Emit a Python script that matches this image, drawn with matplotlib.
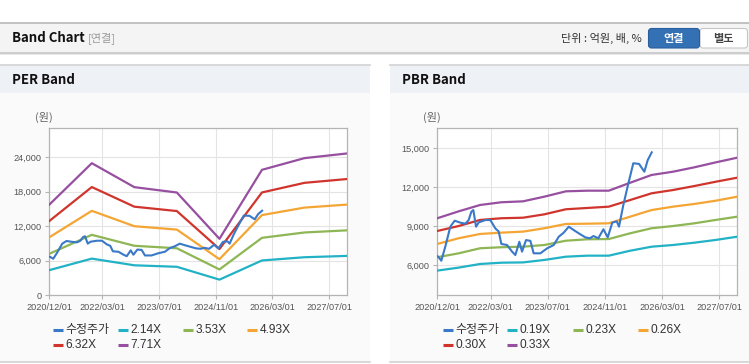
import numpy as np
import matplotlib
matplotlib.use("Agg")
import matplotlib.pyplot as plt
import matplotlib.dates as mdates
from matplotlib.patches import Rectangle, FancyBboxPatch
from matplotlib.ticker import FuncFormatter

plt.rcParams['font.family'] = ['Liberation Sans', 'Noto Sans CJK KR']

# ---- data ----
price_dates = np.array([
    '2020-12-01', '2020-12-10', '2021-01-04', '2021-02-07', '2021-03-22', '2021-04-28',
    '2021-06-15', '2021-07-28', '2021-08-25', '2021-09-17', '2021-10-04', '2021-10-27',
    '2021-11-19', '2022-01-14', '2022-02-26', '2022-04-09', '2022-05-08', '2022-05-31',
    '2022-07-18', '2022-08-30', '2022-09-27', '2022-10-31', '2022-11-23', '2022-12-27',
    '2023-02-02', '2023-03-02', '2023-04-28', '2023-06-24', '2023-08-20', '2023-10-02',
    '2023-11-13', '2023-12-26', '2024-02-06', '2024-03-20', '2024-05-15', '2024-06-24',
    '2024-07-23', '2024-09-03', '2024-10-16', '2024-11-22', '2024-12-31', '2025-02-07',
    '2025-02-26', '2025-04-04', '2025-05-17', '2025-06-28', '2025-08-16', '2025-09-30',
    '2025-10-29', '2025-12-02'], dtype='datetime64[D]')
price = [
    6700, 6650, 6350, 7430, 8970, 9430,
    9280, 9200, 9480, 10120, 10250, 8970,
    9300, 9480, 9480, 8840, 8600, 7640,
    7560, 7050, 6790, 7810, 7050, 7940,
    7880, 6920, 6920, 7300, 7560, 8200,
    8510, 8970, 8710, 8460, 8150, 8080,
    8250, 8080, 8770, 8150, 9280, 9380,
    8970, 10640, 12310, 13850, 13800, 13200,
    14100, 14690]

per_dates = np.array(['2020-12-01', '2021-12-01', '2022-12-01', '2023-12-01',
                      '2024-12-01', '2025-12-01', '2026-12-01', '2027-12-01'],
                     dtype='datetime64[D]')
per_214 = [4370, 6370, 5210, 4950, 2720, 6050, 6610, 6840]
per_353 = [7210, 10500, 8600, 8170, 4490, 9980, 10910, 11280]
per_493 = [10070, 14670, 12000, 11410, 6270, 13930, 15230, 15750]
per_632 = [12900, 18800, 15390, 14630, 8040, 17860, 19530, 20190]
per_771 = [15740, 22940, 18780, 17850, 9810, 21790, 23820, 24630]

pbr_dates = np.array(['2020-12-01', '2021-06-01', '2021-12-01', '2022-06-01', '2022-12-01',
                      '2023-06-01', '2023-12-01', '2024-06-01', '2024-12-01', '2025-06-01',
                      '2025-12-01', '2026-06-01', '2026-12-01', '2027-06-01', '2027-12-01'],
                     dtype='datetime64[D]')
pbr_019 = [5590, 5820, 6100, 6200, 6220, 6410, 6660, 6740, 6740, 7120, 7430, 7560, 7740, 7950, 8200]
pbr_023 = [6620, 6920, 7310, 7390, 7430, 7560, 7890, 8000, 8020, 8460, 8850, 9020, 9230, 9490, 9740]
pbr_026 = [7640, 8080, 8410, 8510, 8590, 8850, 9180, 9200, 9230, 9740, 10250, 10510, 10720, 10970, 11280]
pbr_030 = [8640, 9020, 9490, 9620, 9660, 9920, 10310, 10410, 10510, 11020, 11540, 11790, 12100, 12430, 12740]
pbr_033 = [9620, 10150, 10640, 10850, 10920, 11280, 11690, 11740, 11740, 12350, 12950, 13200, 13540, 13920, 14280]

per_labels = ['수정주가', '2.14X', '3.53X', '4.93X', '6.32X', '7.71X']
pbr_labels = ['수정주가', '0.19X', '0.23X', '0.26X', '0.30X', '0.33X']
colors = ['#3a78c8', '#22b2c6', '#8eb654', '#f4a534', '#d0352d', '#96509f']

x_ticks = np.array(['2020-12-01', '2022-03-01', '2023-07-01', '2024-11-01',
                    '2026-03-01', '2027-07-01'], dtype='datetime64[D]')

W, H = 749, 364
fig = plt.figure(figsize=(W / 100, H / 100), dpi=100)
fig.patch.set_facecolor('white')

# page furniture drawn in pixel coordinates
bg = fig.add_axes([0, 0, 1, 1], zorder=-1)
bg.set_xlim(0, W)
bg.set_ylim(H, 0)
bg.axis('off')

bg.add_patch(Rectangle((0, 23), W, 29.5, fc='#f4f4f4', ec='none'))
bg.plot([0, W], [22.6, 22.6], color='#bdbdbd', lw=1.3)
bg.add_patch(Rectangle((0, 52.3), W, 1.6, fc='#cdcdcd', ec='none'))
bg.add_patch(Rectangle((0, 53.9), W, 1.2, fc='#e8e8e8', ec='none'))

hd = dict(family=['Noto Sans CJK KR', 'DejaVu Sans'])
bg.text(11.5, 38.3, 'Band Chart', fontsize=9.5, fontweight='bold', color='#111111',
        va='center', ha='left', **hd)
bg.text(88, 38.3, '[연결]', fontsize=8, color='#9a9a9a', va='center', ha='left', **hd)
bg.text(642, 38.3, '단위 : 억원, 배, %', fontsize=8, color='#333333', va='center',
        ha='right', **hd)
bg.add_patch(FancyBboxPatch((700, 28.5), 47.5, 19.5, boxstyle='round,pad=0,rounding_size=3',
                            fc='white', ec='#c6c6c6', lw=0.8))
bg.add_patch(FancyBboxPatch((648.5, 28.5), 51, 19.5, boxstyle='round,pad=0,rounding_size=3',
                            fc='#3470b4', ec='#2a5f9e', lw=0.8))
bg.text(674, 38.3, '연결', fontsize=8, fontweight='bold', color='white', va='center',
        ha='center', **hd)
bg.text(723.5, 38.3, '별도', fontsize=8, fontweight='bold', color='#444444', va='center',
        ha='center', **hd)

for px, pw, title in [(0, 370, 'PER Band'), (390, 359, 'PBR Band')]:
    bg.add_patch(Rectangle((px, 64.5), pw, 297, fc='#fafafa', ec='none'))
    bg.add_patch(Rectangle((px, 64.5), pw, 28.3, fc='#eef1f6', ec='none'))
    bg.plot([px, px + pw], [64.5, 64.5], color='#d2d2d2', lw=1.2)
    bg.plot([px, px + pw], [361.6, 361.6], color='#d2d2d2', lw=1.2)
    bg.text(px + 11.5, 80.5, title, fontsize=9.5, fontweight='bold', color='#111111',
            va='center', ha='left', **hd)


def draw_panel(rect, band_dates, bands, ylim, yticks, labels, unit_x, legend_x):
    ax = fig.add_axes(rect)
    ax.set_facecolor('white')
    ax.plot(price_dates, price, color=colors[0], lw=1.5, zorder=4)
    for vals, c in zip(bands, colors[1:]):
        ax.plot(band_dates, vals, color=c, lw=1.6, zorder=3)
    ax.set_xlim(np.datetime64('2020-12-01'), np.datetime64('2027-12-01'))
    ax.set_ylim(*ylim)
    ax.set_xticks(x_ticks)
    ax.xaxis.set_major_formatter(mdates.DateFormatter('%Y/%m/%d'))
    ax.set_yticks(yticks)
    ax.yaxis.set_major_formatter(FuncFormatter(lambda v, p: f'{int(v):,}'))
    ax.grid(True, color='#e4e4e4', lw=0.8)
    ax.set_axisbelow(True)
    for s in ax.spines.values():
        s.set_color('#b4b4b4')
        s.set_linewidth(0.9)
    ax.tick_params(length=3, width=0.8, color='#b4b4b4', labelsize=6.6,
                   labelcolor='#555555', pad=2.5)
    bg.text(unit_x, 117, '(원)', fontsize=8, color='#666666', va='center', ha='center', **hd)
    # legend, two rows
    for i, (lab, c) in enumerate(zip(labels, colors)):
        lx = legend_x[i % 4]
        ly = 330 if i < 4 else 345
        bg.plot([lx, lx + 10], [ly, ly], color=c, lw=2.2, solid_capstyle='butt')
        bg.text(lx + 12.5, ly, lab, fontsize=8.6, color='#333333', va='center', ha='left')
    return ax


draw_panel([49.3 / W, 1 - 295.3 / H, 297.7 / W, 167 / H], per_dates,
           [per_214, per_353, per_493, per_632, per_771], (0, 29000),
           [0, 6000, 12000, 18000, 24000], per_labels, 44, [52.7, 117.7, 182.7, 247.3])
draw_panel([437.3 / W, 1 - 295.3 / H, 300 / W, 167 / H], pbr_dates,
           [pbr_019, pbr_023, pbr_026, pbr_030, pbr_033], (3690, 16540),
           [6000, 9000, 12000, 15000], pbr_labels, 432, [443.3, 507.3, 572.7, 637.7])

fig.savefig('out.png', dpi=100)
